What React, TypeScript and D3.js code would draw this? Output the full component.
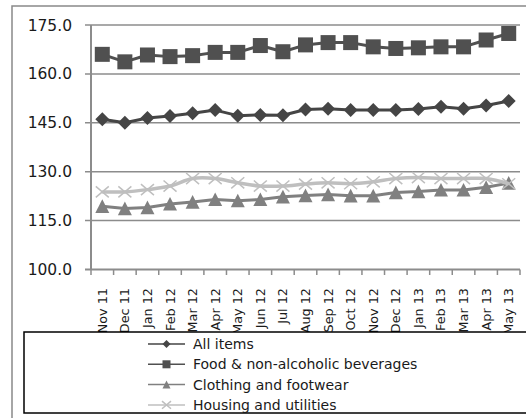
import React from "react";
import * as d3 from "d3";

const months = ["Nov 11","Dec 11","Jan 12","Feb 12","Mar 12","Apr 12","May 12","Jun 12","Jul 12","Aug 12","Sep 12","Oct 12","Nov 12","Dec 12","Jan 13","Feb 13","Mar 13","Apr 13","May 13"];
const allItems = [146.1,145.0,146.5,147.1,147.9,148.9,147.2,147.4,147.3,149.1,149.3,148.9,148.9,148.9,149.2,149.9,149.3,150.3,151.7];
const food = [166.0,163.7,165.8,165.3,165.6,166.6,166.6,168.7,166.8,168.9,169.6,169.6,168.3,167.8,168.0,168.3,168.3,170.4,172.4];
const clothing = [119.4,118.7,119.0,120.1,120.7,121.5,121.1,121.5,122.3,122.7,123.0,122.6,122.6,123.6,123.9,124.4,124.4,125.2,126.5];
const housing = [123.8,123.8,124.5,125.6,127.9,127.9,126.6,125.6,125.6,126.2,126.6,126.3,126.9,127.9,128.2,127.9,127.9,127.9,126.3];
const yTicks = [100, 115, 130, 145, 160, 175];
const seriesNames = ["All items", "Food & non-alcoholic beverages", "Clothing and footwear", "Housing and utilities"];

const FONT = "DejaVu Sans, sans-serif";

type Marker = "diamond" | "square" | "triangle" | "x";

function MarkerShape({ type, cx, cy, s, color }: { type: Marker; cx: number; cy: number; s: number; color: string }) {
  if (type === "diamond") {
    const p = `M${cx},${cy - s} L${cx + s},${cy} L${cx},${cy + s} L${cx - s},${cy} Z`;
    return <path d={p} fill={color} />;
  }
  if (type === "square") {
    return <rect x={cx - s} y={cy - s} width={2 * s} height={2 * s} fill={color} />;
  }
  if (type === "triangle") {
    const p = `M${cx},${cy - s} L${cx + s},${cy + s * 0.95} L${cx - s},${cy + s * 0.95} Z`;
    return <path d={p} fill={color} />;
  }
  const p = `M${cx - s},${cy - s * 0.85} L${cx + s},${cy + s * 0.85} M${cx + s},${cy - s * 0.85} L${cx - s},${cy + s * 0.85}`;
  return <path d={p} stroke={color} strokeWidth={1.5} fill="none" />;
}

export default function App() {
  const W = 526, H = 418;
  const x = d3.scaleBand<string>().domain(months).range([91, 520]);
  const y = d3.scaleLinear().domain([100, 175]).range([269.5, 25]);
  const cx = (m: string) => (x(m) as number) + x.bandwidth() / 2;

  const series = [
    { name: seriesNames[0], values: allItems, color: "#454545", marker: "diamond" as Marker, size: 7, width: 3, smooth: false },
    { name: seriesNames[1], values: food, color: "#505050", marker: "square" as Marker, size: 7.5, width: 3, smooth: false },
    { name: seriesNames[2], values: clothing, color: "#808080", marker: "triangle" as Marker, size: 7, width: 3, smooth: false },
    { name: seriesNames[3], values: housing, color: "#bfbfbf", marker: "x" as Marker, size: 6.5, width: 3.5, smooth: true },
  ];

  const lineFor = (smooth: boolean) =>
    d3.line<number>()
      .x((_, i) => cx(months[i]))
      .y((v) => y(v))
      .curve(smooth ? d3.curveCatmullRom.alpha(0) : d3.curveLinear);

  const boundaries = months.map((m) => x(m) as number).concat([520]);

  return (
    <svg width={W} height={H} style={{ position: "absolute", left: 0, top: 0 }} fontFamily={FONT}>
      <rect x={0} y={0} width={W} height={H} fill="#fff" />
      <rect x={12} y={6} width={W + 20} height={H + 20} fill="none" stroke="#898989" strokeWidth={1.5} />
      {/* gridlines */}
      {yTicks.map((t) => (
        <g key={t}>
          <line x1={85} x2={520} y1={y(t)} y2={y(t)} stroke="#8c8c8c" strokeWidth={t === 100 ? 2 : 1.5} />
          <text x={72} y={y(t)} dy="0.36em" textAnchor="end" fontSize={15.5} fill="#1a1a1a">{t.toFixed(1)}</text>
        </g>
      ))}
      {/* y axis */}
      <line x1={91} x2={91} y1={y(175)} y2={y(100)} stroke="#8c8c8c" strokeWidth={2} />
      {/* x ticks */}
      {boundaries.map((b, i) => (
        <line key={i} x1={b} x2={b} y1={y(100)} y2={y(100) + 5.5} stroke="#8c8c8c" strokeWidth={1.5} />
      ))}
      {months.map((m) => (
        <text key={m} transform={`translate(${cx(m) + 4.5},${288}) rotate(-90)`} textAnchor="end" fontSize={12.8} fill="#1a1a1a">{m}</text>
      ))}
      {/* series */}
      {series.map((s) => (
        <g key={s.name}>
          <path d={lineFor(s.smooth)(s.values) as string} fill="none" stroke={s.color} strokeWidth={s.width} strokeLinejoin="round" />
          {s.values.map((v, i) => (
            <MarkerShape key={i} type={s.marker} cx={cx(months[i])} cy={y(v)} s={s.size} color={s.color} />
          ))}
        </g>
      ))}
      {/* legend */}
      <rect x={24} y={332} width={520} height={81} fill="#fff" stroke="#000" strokeWidth={1.5} />
      {series.map((s, i) => {
        const ly = 344 + i * 20.3;
        return (
          <g key={s.name}>
            <line x1={148} x2={185} y1={ly} y2={ly} stroke={s.color} strokeWidth={1.5} />
            <MarkerShape type={s.marker} cx={166.5} cy={ly} s={s.marker === "x" ? 4.5 : 4} color={s.color} />
            <text x={193} y={ly} dy="0.36em" fontSize={14} fill="#1a1a1a">{s.name}</text>
          </g>
        );
      })}
    </svg>
  );
}
